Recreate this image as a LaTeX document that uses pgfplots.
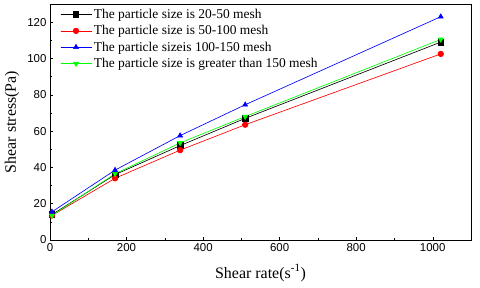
\documentclass[border=0pt]{standalone}
\usepackage{pgfplots}
\pgfplotsset{compat=1.18}
\usepackage{fontspec}
\setmainfont{Liberation Serif}
\newfontfamily\tickfont{Liberation Sans}
\begin{document}
\begin{tikzpicture}
\useasboundingbox (-50bp,-48bp) rectangle (430bp,240bp);
\begin{axis}[
  at={(0,0)}, anchor=south west,
  scale only axis,
  width=421bp, height=236bp,
  xmin=0, xmax=1100, ymin=0, ymax=130,
  xtick={0,200,...,1000}, ytick={0,20,...,120},
  minor x tick num=1, minor y tick num=1,
  tick align=inside,
  xtick pos=bottom, ytick pos=left,
  major tick length=3.5pt, minor tick length=2pt,
  tick style={black, thin},
  axis line style={black, thin},
  ticklabel style={font=\tickfont\fontsize{11.5}{13}\selectfont},
  /pgf/number format/assume math mode=true,
  /pgf/number format/1000 sep={},
  xlabel={Shear rate(s\textsuperscript{-1})},
  ylabel={Shear stress(Pa)},
  label style={font=\fontsize{16}{18}\selectfont},
  xlabel style={at={(axis description cs:0.5,-0.14)}, anchor=center},
  ylabel style={at={(axis description cs:-0.090,0.5)}, anchor=center},
  legend style={draw=none, fill=none, at={(0,1)}, anchor=north west,
    xshift=7bp, yshift=-1bp,
    font=\fontsize{13.5}{15}\selectfont, row sep=1.5pt},
  legend cell align=left,
  legend image code/.code={\draw[#1] (0bp,0bp) -- (31bp,0bp); \draw[#1, mark repeat=2, mark phase=2] plot coordinates {(0bp,0bp) (15.5bp,0bp) (31bp,0bp)};},
  mark size=2.8pt,
  every axis plot/.append style={line width=0.65pt},
]
\addplot[black, mark=square*] coordinates {(5.1,14) (170,36) (340,52) (510,67) (1021,109)};
\addlegendentry{The particle size is 20-50 mesh}
\addplot[red, mark=*] coordinates {(5.1,13.5) (170,34) (340,49.5) (510,63.5) (1021,102.5)};
\addlegendentry{The particle size is 50-100 mesh}
\addplot[blue, mark=triangle*] coordinates {(5.1,15.5) (170,38.5) (340,57.5) (510,74.5) (1021,123)};
\addlegendentry{The particle sizeis 100-150 mesh}
\addplot[green, mark=triangle*, mark options={rotate=180}] coordinates {(5.1,13.5) (170,36.5) (340,53.5) (510,68) (1021,110.5)};
\addlegendentry{The particle size is greater than 150 mesh}
\end{axis}
\end{tikzpicture}
\end{document}
